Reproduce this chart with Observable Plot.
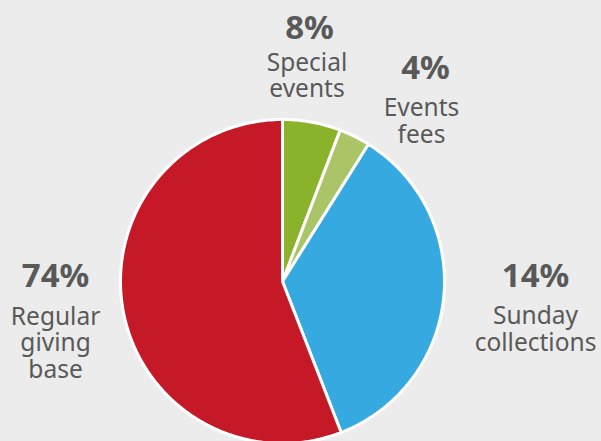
<!DOCTYPE html>
<html>
<head>
<meta charset="utf-8">
<script src="https://cdn.jsdelivr.net/npm/d3@7"></script>
<script src="https://cdn.jsdelivr.net/npm/@observablehq/plot@0.6"></script>
<style>
  html, body { margin: 0; padding: 0; background: #ececec; }
  #chart svg { display: block; }
</style>
</head>
<body>
<div id="chart"></div>
<script>
// Slice order, clockwise from 12 o'clock
const categories = ["Special events", "Events fees", "Sunday collections", "Regular giving base"];
// Drawn slice shares (%)
const sliceValues = [5.8, 3.1, 35.2, 55.9];
// Printed percentage labels
const percentLabels = ["8%", "4%", "14%", "74%"];
// Printed category labels (line breaks as in the picture)
const nameLabels = ["Special\nevents", "Events\nfees", "Sunday\ncollections", "Regular\ngiving\nbase"];
const colors = ["#8ab22b", "#a9c567", "#36a9e1", "#c61927"];

// Label anchor positions in pie-radius units (layout, not data)
const pctPos  = [[0.167, 1.494], [0.883, 1.247], [1.562, -0.031], [-1.401, -0.031]];
const namePos = [[0.151, 1.136], [0.858, 0.858], [1.562, -0.426], [-1.401, -0.593]];

const W = 601, H = 441, R = 162, CX = 282, CY = 281;

const pie = d3.pie().sort(null).value(d => d)(sliceValues);
const rows = [];
pie.forEach((p, i) => {
  const cat = categories[i];
  rows.push({cat, x: 0, y: 0});
  const n = Math.max(2, Math.ceil((p.endAngle - p.startAngle) / (Math.PI / 180)));
  for (let k = 0; k <= n; k++) {
    const a = p.startAngle + (p.endAngle - p.startAngle) * k / n;
    rows.push({cat, x: Math.sin(a), y: Math.cos(a)});
  }
  rows.push({cat, x: 0, y: 0});
});

const pctData = categories.map((c, i) => ({cat: c, text: percentLabels[i], x: pctPos[i][0], y: pctPos[i][1]}));
const nameData = categories.map((c, i) => ({cat: c, text: nameLabels[i], x: namePos[i][0], y: namePos[i][1]}));

const chart = Plot.plot({
  width: W,
  height: H,
  margin: 0,
  style: {background: "#ececec", fontFamily: "'Noto Sans', sans-serif"},
  x: {domain: [-CX / R, (W - CX) / R], axis: null},
  y: {domain: [-(H - CY) / R, CY / R], axis: null},
  color: {domain: categories, range: colors},
  marks: [
    Plot.line(rows, {x: "x", y: "y", z: "cat", fill: "cat", stroke: "white", strokeWidth: 3, strokeLinejoin: "round", curve: "linear"}),
    Plot.text(pctData, {x: "x", y: "y", text: "text", lineAnchor: "bottom", fontSize: 33, fontWeight: "bold", fill: "#595959", fontFamily: "'Noto Sans', sans-serif"}),
    Plot.text(nameData, {x: "x", y: "y", text: "text", lineAnchor: "bottom", fontSize: 24.5, lineHeight: 1.08, fill: "#595959", fontFamily: "'Noto Sans', sans-serif"})
  ]
});
document.getElementById("chart").appendChild(chart);
</script>
</body>
</html>
